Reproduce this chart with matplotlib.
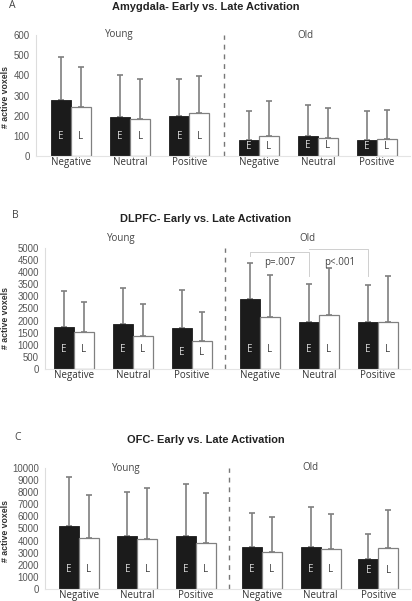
import matplotlib
matplotlib.use('Agg')
import matplotlib.pyplot as plt
import matplotlib.transforms as mtransforms
import numpy as np

# data (means and upward SD)
categories = ['Negative', 'Neutral', 'Positive', 'Negative', 'Neutral', 'Positive']
groups = ['Young', 'Old']

amy_early = [278, 195, 198, 78, 98, 80]
amy_early_sd = [212, 209, 182, 144, 157, 145]
amy_late = [241, 182, 215, 101, 88, 84]
amy_late_sd = [199, 198, 182, 172, 150, 146]

dlpfc_early = [1736, 1846, 1708, 2900, 1950, 1925]
dlpfc_early_sd = [1473, 1487, 1543, 1485, 1570, 1565]
dlpfc_late = [1529, 1350, 1143, 2145, 2228, 1925]
dlpfc_late_sd = [1253, 1336, 1212, 1750, 1952, 1915]

ofc_early = [5215, 4360, 4360, 3430, 3485, 2500]
ofc_early_sd = [4035, 3655, 4340, 2830, 3325, 2030]
ofc_late = [4180, 4115, 3790, 3075, 3265, 3400]
ofc_late_sd = [3595, 4205, 4120, 2885, 2965, 3110]

W, H = 412, 601
fig = plt.figure(figsize=(W / 100, H / 100), dpi=100)

TICKFONT = 'Liberation Sans'
LABFONT = 'Open Sans'
GREY = '#7f7f7f'


def fx(px):
    return px / W


def fy(py):
    return 1 - py / H


def panel(letter, title, early, early_sd, late, late_sd, ymax, ystep,
          rect, xl, scale, pos, dash, title_y, letter_xy, ylab_xy, group_y):
    left, top, right, bottom = rect
    ax = fig.add_axes([fx(left), fy(bottom), (right - left) / W, (bottom - top) / H])
    x = np.array(pos)
    bw = 20 / scale
    ax.bar(x - bw / 2, early, width=bw, color='#1b1b1b', edgecolor='#1b1b1b', linewidth=0.6, zorder=2)
    ax.bar(x + bw / 2, late, width=bw, color='white', edgecolor='#808080', linewidth=0.9, zorder=2)
    ax.errorbar(x - bw / 2, early, yerr=[np.zeros(6), early_sd], fmt='none', ecolor=GREY,
                elinewidth=1.2, capsize=1.9, capthick=1.2, zorder=1)
    ax.errorbar(x + bw / 2, late, yerr=[np.zeros(6), late_sd], fmt='none', ecolor=GREY,
                elinewidth=1.2, capsize=1.9, capthick=1.2, zorder=1)
    # E / L letters at one height per pair, lower when the bars are short
    for i, xi in enumerate(x):
        ypos = min(0.16 * ymax, 0.6 * min(early[i], late[i]))
        ax.text(xi - bw / 2, ypos, 'E', ha='center', va='center',
                color='#d8d8d8', fontsize=7, family=LABFONT, zorder=3)
        ax.text(xi + bw / 2, ypos, 'L', ha='center', va='center',
                color='#444444', fontsize=7, family=LABFONT, zorder=3)
    ax.axvline(dash, color='#777777', lw=1.0, ls=(0, (3.5, 3.5)), zorder=1)
    trans = mtransforms.blended_transform_factory(ax.transData, ax.transAxes)
    ax.text(x[0] + 0.81, group_y, groups[0], transform=trans, ha='center', va='center',
            fontsize=7, family=LABFONT, color='#444444')
    ax.text(x[0] + 3.96, group_y, groups[1], transform=trans, ha='center', va='center',
            fontsize=7, family=LABFONT, color='#444444')

    ax.set_xlim(xl, xl + (right - left) / scale)
    ax.set_ylim(0, ymax)
    ax.set_yticks(np.arange(0, ymax + 1, ystep))
    ax.set_xticks(x)
    ax.set_xticklabels(categories, family=LABFONT, fontsize=7, color='#333333')
    for lab in ax.get_yticklabels():
        lab.set_family(TICKFONT)
        lab.set_fontsize(6.9)
        lab.set_color('#555555')
    ax.tick_params(axis='x', length=0, pad=0.5)
    ax.tick_params(axis='y', length=0, pad=4.5)
    for s in ['top', 'right']:
        ax.spines[s].set_visible(False)
    ax.spines['left'].set_color('#dddddd')
    ax.spines['bottom'].set_color('#e4e4e4')
    ax.spines['left'].set_linewidth(0.8)
    ax.spines['bottom'].set_linewidth(0.8)
    ax.patch.set_alpha(0)

    fig.text(0.5, fy(title_y), title, ha='center', va='center', fontsize=7.9,
             fontweight='bold', family=TICKFONT, color='#222222')
    fig.text(fx(letter_xy[0]), fy(letter_xy[1]), letter, ha='center', va='center',
             fontsize=7.5, family=LABFONT, color='#444444')
    fig.text(fx(ylab_xy[0]), fy(ylab_xy[1]), '# active voxels', ha='center', va='center',
             rotation=90, fontsize=6.3, fontweight='bold', family=TICKFONT, color='#333333')
    return ax


axA = panel('A', 'Amygdala- Early vs. Late Activation', amy_early, amy_early_sd,
            amy_late, amy_late_sd, 600, 100,
            (36, 35, 410, 156), -0.59, 59.2, [0, 1, 2, 3.17, 4.17, 5.17], 2.58,
            7, (12, 5), (6, 97), 1.0)

axB = panel('B', 'DLPFC- Early vs. Late Activation', dlpfc_early, dlpfc_early_sd,
            dlpfc_late, dlpfc_late_sd, 5000, 500,
            (45, 248, 410, 369), -0.49, 59.0, [0, 1, 2, 3.15, 4.15, 5.15], 2.56,
            219, (15, 216), (6, 318), 1.08)

axC = panel('C', 'OFC- Early vs. Late Activation', ofc_early, ofc_early_sd,
            ofc_late, ofc_late_sd, 10000, 1000,
            (45, 468, 410, 589), -0.58, 58.5, [0, 1, 2, 3.13, 4.13, 5.12], 2.56,
            440, (18, 437), (6, 531), 1.0)

# significance brackets in panel B (old group), very faint in the original
bc = '#cfcfcf'
axB.plot([2.98, 2.98, 3.98, 3.98], [4680, 4830, 4830, 3850], color=bc, lw=0.7, clip_on=False)
axB.plot([3.98, 4.98, 4.98], [4960, 4960, 3850], color=bc, lw=0.7, clip_on=False)
axB.text(3.48, 4420, 'p=.007', ha='center', va='center', fontsize=7, family=LABFONT, color='#444444')
axB.text(4.5, 4420, 'p<.001', ha='center', va='center', fontsize=7, family=LABFONT, color='#444444')

plt.savefig('out.png', dpi=100)
